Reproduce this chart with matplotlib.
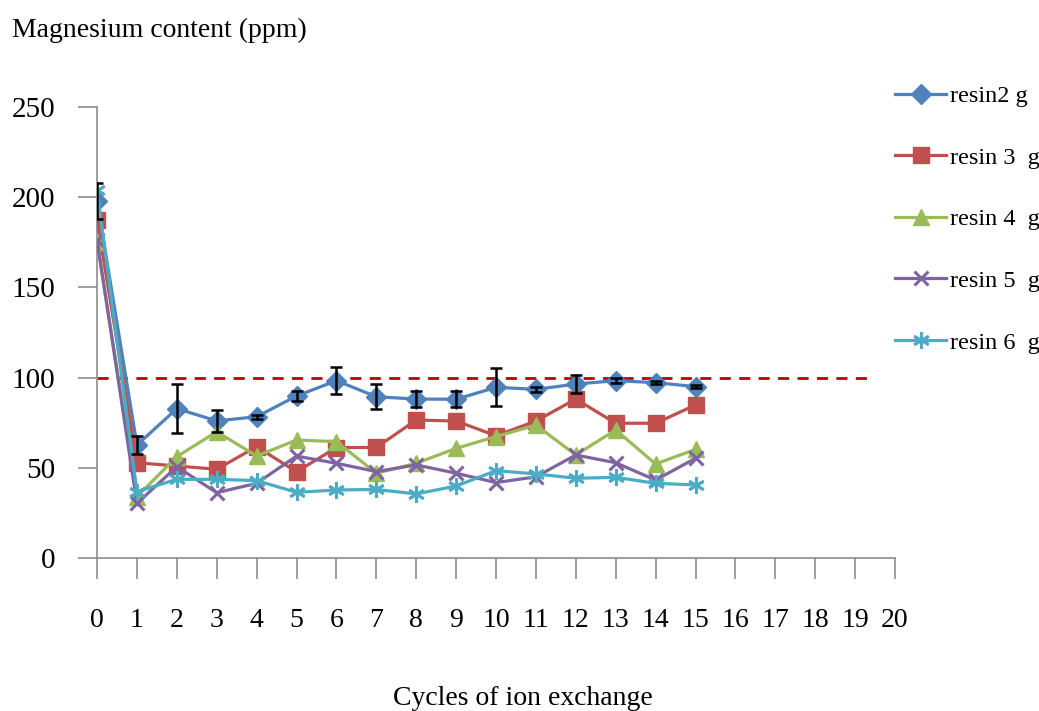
import matplotlib
matplotlib.use("Agg")
import matplotlib.pyplot as plt

# data
cycles = list(range(16))
resin2 = [198, 62.6, 82.8, 76, 78.3, 89.8, 98.3, 89.4, 88.1, 88, 94.6, 93.5, 96.4, 98.3, 97.2, 95]
resin2_err = [10, 5, 13.5, 6, 1, 3, 7.5, 7, 4.5, 4.5, 10.5, 1.5, 5, 1.5, 1, 1]
resin3 = [187.4, 52.8, 51, 49.2, 61.7, 47.8, 61.2, 61.3, 76.5, 75.9, 67.8, 75.9, 88.1, 74.7, 74.7, 84.8]
resin4 = [175.4, 34, 56.2, 70, 56.5, 65.4, 64.5, 47, 52.5, 60.8, 67.3, 73.7, 57.1, 71, 52.1, 60.2]
resin5 = [176.3, 30.3, 50.6, 36.2, 41.4, 56.5, 52.5, 47.9, 51.6, 47, 41.8, 45, 57.1, 52.8, 43.2, 55.3]
resin6 = [204, 36.8, 43.6, 43.6, 42.9, 36.4, 37.7, 38, 35.5, 39.9, 48.4, 46.6, 44.2, 44.7, 41.4, 40.5]
labels = ["resin2 g", "resin 3  g", "resin 4  g", "resin 5  g", "resin 6  g"]
limit = 100
limit_end = 19.4

plt.rcParams['font.family'] = ['Liberation Serif', 'DejaVu Serif']

fig = plt.figure(figsize=(10.39, 7.11), dpi=100)
ax = fig.add_axes([0.0934, 0.2152, 0.768, 0.6343])

lw = 2.3
h1, = ax.plot(cycles, resin2, color='#4F81BD', lw=lw, marker='D', ms=10, zorder=3)
ax.errorbar(cycles, resin2, yerr=resin2_err, fmt='none', ecolor='black',
            elinewidth=1.8, capsize=4, capthick=1.8, zorder=6)
h2, = ax.plot(cycles, resin3, color='#C0504D', lw=lw, marker='s', ms=11, zorder=3)
h3, = ax.plot(cycles, resin4, color='#9BBB59', lw=lw, marker='^', ms=11, zorder=3)
h4, = ax.plot(cycles, resin5, color='#8064A2', lw=lw, marker='x', ms=10, mew=2.2, zorder=4)
h5, = ax.plot(cycles, resin6, color='#4BACC6', lw=lw, marker=(6, 2, 0), ms=12, mew=2, zorder=5)

ax.hlines(limit, 0, limit_end, colors='#C00000', linestyles=(0, (4, 3)), lw=2, zorder=2)

ax.set_xlim(0, 20)
ax.set_ylim(0, 250)
ax.set_xticks(range(0, 21))
ax.set_yticks(range(0, 251, 50))
for s in ['top', 'right']:
    ax.spines[s].set_visible(False)
for s in ['left', 'bottom']:
    ax.spines[s].set_color('#8C8C8C')
    ax.spines[s].set_linewidth(1.2)
ax.tick_params(axis='x', length=15, width=1.2, color='#8C8C8C', pad=21, labelsize=20)
ax.tick_params(axis='y', length=14, width=1.2, color='#8C8C8C', pad=16, labelsize=21)
for t in ax.get_xticklabels() + ax.get_yticklabels():
    t.set_clip_on(False)

fig.text(12 / 1039, 1 - 30 / 711, "Magnesium content (ppm)", ha='left', va='center', fontsize=20)
fig.text(523 / 1039, 0.018, "Cycles of ion exchange", ha='center', va='center', fontsize=20)

fig.legend([h1, h2, h3, h4, h5], labels, loc='upper left',
           bbox_to_anchor=(895 / 1039, 1 - 85 / 711), frameon=False,
           fontsize=17.5, labelspacing=1.63, handlelength=2.1, handletextpad=0.15,
           borderaxespad=0, borderpad=0)

fig.savefig("out.png", dpi=100)
